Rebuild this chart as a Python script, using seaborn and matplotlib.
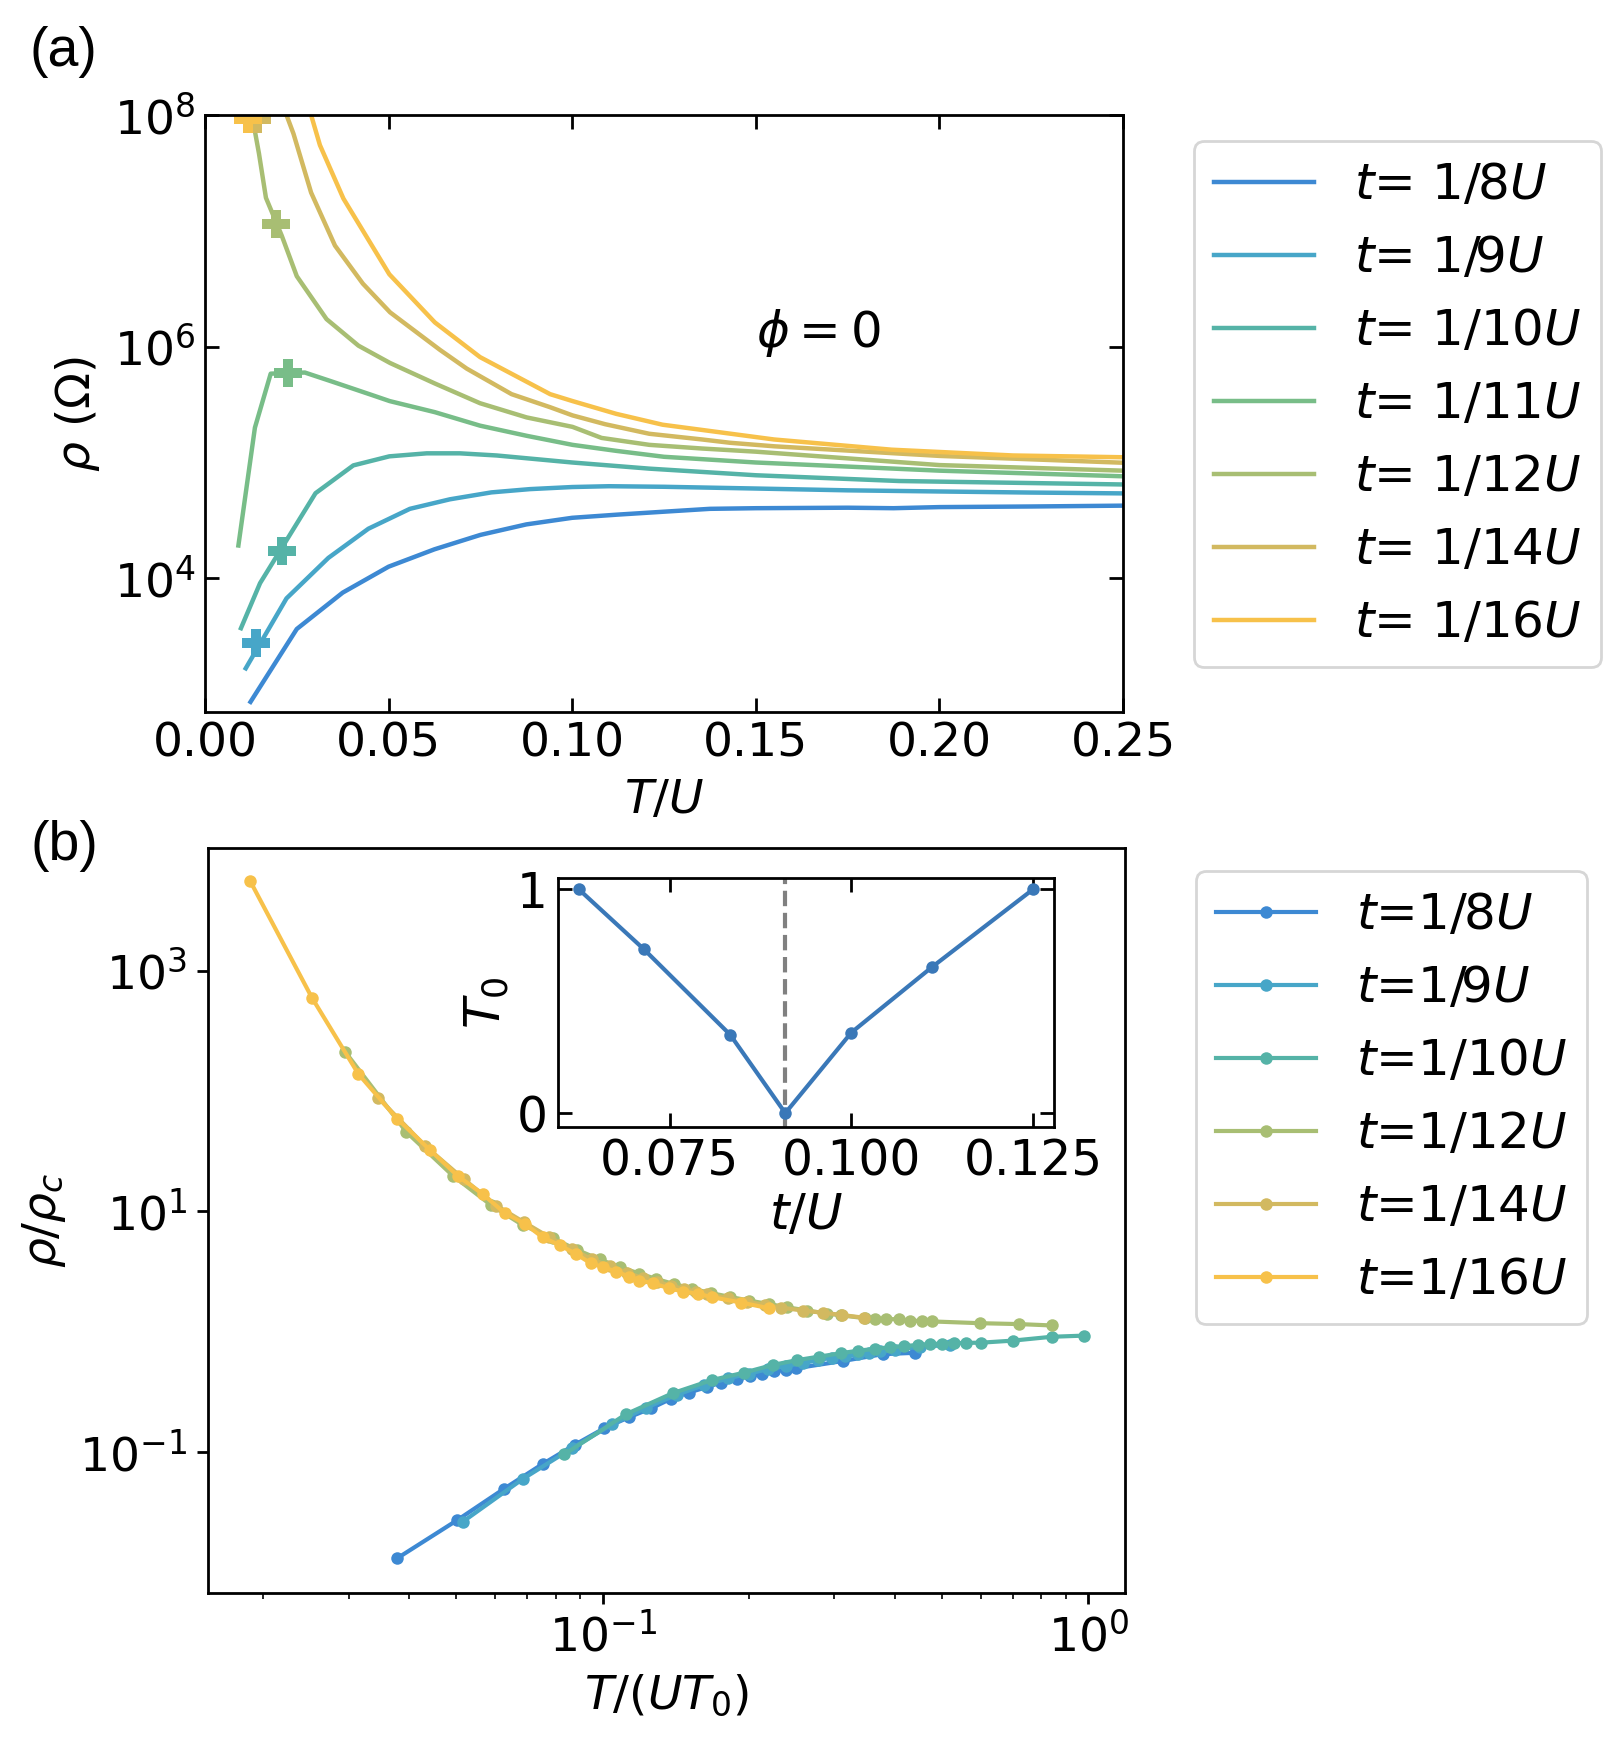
import numpy as np
import pandas as pd
import matplotlib
matplotlib.use("Agg")
import matplotlib.pyplot as plt
import seaborn as sns
from matplotlib.ticker import NullLocator, FixedLocator

# ---------------- data: panel (a) ----------------
series_a = ["1/8", "1/9", "1/10", "1/11", "1/12", "1/14", "1/16"]
colors = ["#3d89d3", "#47a6c8", "#55b3a7", "#78bd88", "#a8be73", "#d2b960", "#f7c14a"]

T_8 = [0.0124, 0.025, 0.0375, 0.05, 0.0625, 0.075, 0.0875, 0.1, 0.1125, 0.125, 0.1375, 0.15, 0.175, 0.1875, 0.2, 0.225, 0.25]
R_8 = [857, 3650, 7520, 12600, 17800, 23700, 29200, 33300, 35500, 37600, 39800, 40300, 40700, 40300, 41200, 41700, 42400]
T_9 = [0.0111, 0.0222, 0.0336, 0.0445, 0.0558, 0.0667, 0.078, 0.0885, 0.1, 0.11, 0.125, 0.15, 0.175, 0.2, 0.225, 0.25]
R_9 = [1670, 6710, 15000, 26800, 39800, 48100, 55200, 58900, 61400, 62400, 61700, 59600, 57500, 56200, 55000, 54100]
T_10 = [0.0098, 0.015, 0.0301, 0.0404, 0.0502, 0.0604, 0.0694, 0.0794, 0.1, 0.121, 0.15, 0.189, 0.25]
R_10 = [3710, 9080, 54300, 94400, 113000, 120000, 120000, 115000, 100000, 88500, 77600, 69200, 64600]
T_11 = [0.0091, 0.0136, 0.0179, 0.0272, 0.0345, 0.0454, 0.0503, 0.0626, 0.0749, 0.0876, 0.1001, 0.112, 0.125, 0.15, 0.2, 0.25]
R_11 = [19200, 2.0e5, 5.85e5, 5.98e5, 5.01e5, 3.83e5, 3.39e5, 2.72e5, 2.08e5, 1.70e5, 1.42e5, 1.26e5, 1.12e5, 1.0e5, 8.5e4, 7.6e4]
T_12 = [0.0118, 0.0132, 0.0147, 0.0166, 0.0209, 0.025, 0.0331, 0.0418, 0.0504, 0.0626, 0.0749, 0.0876, 0.1001, 0.108, 0.121, 0.1354, 0.15, 0.2, 0.25]
R_12 = [2e8, 8.5e7, 4.66e7, 1.93e7, 9.1e6, 4.06e6, 1.73e6, 1.02e6, 7.23e5, 4.81e5, 3.25e5, 2.45e5, 2.03e5, 1.63e5, 1.42e5, 1.32e5, 1.24e5, 9.5e4, 8.5e4]
T_14 = [0.0177, 0.0222, 0.0241, 0.0289, 0.0354, 0.043, 0.0504, 0.064, 0.0713, 0.0835, 0.094, 0.1001, 0.109, 0.121, 0.1354, 0.143, 0.155, 0.2, 0.25]
R_14 = [4e8, 1e8, 6.9e7, 2.14e7, 7.46e6, 3.5e6, 1.98e6, 9.38e5, 6.46e5, 3.89e5, 3.0e5, 2.55e5, 2.14e5, 1.77e5, 1.58e5, 1.48e5, 1.38e5, 1.14e5, 9.95e4]
T_16 = [0.0252, 0.0289, 0.0313, 0.0377, 0.0502, 0.0626, 0.0749, 0.094, 0.1001, 0.112, 0.1246, 0.155, 0.187, 0.22, 0.25]
R_16 = [3.2e8, 1e8, 5.5e7, 1.9e7, 4.22e6, 1.62e6, 8.13e5, 3.89e5, 3.39e5, 2.63e5, 2.12e5, 1.58e5, 1.29e5, 1.15e5, 1.11e5]

mark_series = ["1/9", "1/10", "1/11", "1/12", "1/14", "1/16"]
mark_T = [0.0139, 0.0211, 0.0227, 0.0193, 0.0141, 0.0118]
mark_R = [2750, 17100, 5.9e5, 1.15e7, 9.2e7, 9.2e7]

# ---------------- data: panel (b) ----------------
series_b = ["1/8", "1/9", "1/10", "1/12", "1/14", "1/16"]
x_8 = [0.0377, 0.0502, 0.0627, 0.0752, 0.0875, 0.1007, 0.1132, 0.1259, 0.138, 0.1503, 0.1637, 0.175, 0.189, 0.201, 0.213, 0.2254, 0.2388, 0.25, 0.3126, 0.377, 0.44]
y_8 = [0.0131, 0.0273, 0.0498, 0.0798, 0.115, 0.158, 0.195, 0.232, 0.277, 0.313, 0.347, 0.378, 0.404, 0.43, 0.447, 0.473, 0.482, 0.498, 0.573, 0.652, 0.67]
x_9 = [0.0515, 0.0684, 0.0865, 0.1045, 0.123, 0.142, 0.1615, 0.181, 0.2, 0.219, 0.238, 0.258, 0.277, 0.296, 0.315, 0.335, 0.354, 0.373, 0.40, 0.45, 0.52]
y_9 = [0.0264, 0.0598, 0.108, 0.17, 0.235, 0.30, 0.36, 0.41, 0.45, 0.49, 0.52, 0.55, 0.58, 0.61, 0.63, 0.65, 0.67, 0.69, 0.71, 0.75, 0.78]
x_10 = [0.0834, 0.1117, 0.1393, 0.168, 0.1954, 0.224, 0.2518, 0.2786, 0.309, 0.336, 0.363, 0.39, 0.418, 0.445, 0.472, 0.50, 0.53, 0.56, 0.601, 0.698, 0.84, 0.977]
y_10 = [0.096, 0.207, 0.309, 0.398, 0.458, 0.531, 0.583, 0.622, 0.664, 0.698, 0.721, 0.745, 0.762, 0.778, 0.79, 0.80, 0.805, 0.81, 0.813, 0.845, 0.91, 0.93]
x_12 = [0.0295, 0.0394, 0.0491, 0.0589, 0.0685, 0.0789, 0.0885, 0.0985, 0.1085, 0.119, 0.129, 0.14, 0.153, 0.167, 0.183, 0.20, 0.22, 0.24, 0.264, 0.29, 0.31, 0.346, 0.363, 0.383, 0.407, 0.43, 0.455, 0.477, 0.598, 0.72, 0.84]
y_12 = [212, 45.9, 19.9, 11.3, 7.69, 6.0, 4.8, 4.0, 3.45, 3.05, 2.75, 2.5, 2.28, 2.1, 1.95, 1.82, 1.70, 1.60, 1.50, 1.42, 1.37, 1.30, 1.29, 1.28, 1.27, 1.24, 1.23, 1.22, 1.18, 1.16, 1.13]
x_14 = [0.0345, 0.0431, 0.0518, 0.0604, 0.069, 0.0777, 0.0863, 0.0949, 0.1036, 0.1122, 0.1208, 0.1295, 0.1381, 0.1467, 0.1554, 0.164, 0.1812, 0.1985, 0.2158, 0.233, 0.2589, 0.2848, 0.3107, 0.3452]
y_14 = [88, 35, 18.5, 11.2, 8.1, 6.1, 4.9, 4.0, 3.5, 3.1, 2.8, 2.6, 2.42, 2.27, 2.16, 2.06, 1.90, 1.78, 1.67, 1.59, 1.50, 1.44, 1.38, 1.31]
x_16 = [0.0188, 0.0252, 0.0314, 0.0377, 0.044, 0.0504, 0.0566, 0.0628, 0.0692, 0.0752, 0.0815, 0.0881, 0.0944, 0.1003, 0.1067, 0.1133, 0.119, 0.1267, 0.137, 0.1466, 0.157, 0.168, 0.193, 0.22]
y_16 = [5570, 597, 139, 59.2, 32.7, 19.6, 14.0, 9.73, 7.88, 6.11, 5.25, 4.44, 3.72, 3.44, 3.16, 2.88, 2.67, 2.54, 2.30, 2.16, 2.07, 1.94, 1.75, 1.57]

# inset
t_over_U = [1/16, 1/14, 1/12, 1/11, 1/10, 1/9, 1/8]
T0_vals = [1.0, 0.733, 0.35, 0.0, 0.36, 0.653, 1.0]
t_critical = 1/11

# ---------------- build frames ----------------
dfa = pd.concat([
    pd.DataFrame({"T": T, "rho": R, "s": s})
    for s, T, R in zip(series_a, [T_8, T_9, T_10, T_11, T_12, T_14, T_16],
                       [R_8, R_9, R_10, R_11, R_12, R_14, R_16])
], ignore_index=True)
dfm = pd.DataFrame({"T": mark_T, "rho": mark_R, "s": mark_series})
dfb = pd.concat([
    pd.DataFrame({"x": X, "y": Y, "s": s})
    for s, X, Y in zip(series_b, [x_8, x_9, x_10, x_12, x_14, x_16],
                       [y_8, y_9, y_10, y_12, y_14, y_16])
], ignore_index=True)
dfi = pd.DataFrame({"t": t_over_U, "T0": T0_vals})

pal_a = dict(zip(series_a, colors))
pal_b = {s: pal_a[s] for s in series_b}

TICK = 17
LAB = 17
LEG = 18

fig = plt.figure(figsize=(8.07, 8.69), dpi=200)

# ---------------- panel (a) ----------------
ax_a = fig.add_axes([0.1270, 0.5903, 0.5688, 0.3435])
sns.lineplot(data=dfa, x="T", y="rho", hue="s", hue_order=series_a, palette=pal_a,
             estimator=None, sort=False, lw=1.6, legend=False, ax=ax_a)
lines_a = list(ax_a.get_lines())
for s, T, R in zip(dfm["s"], dfm["T"], dfm["rho"]):
    ax_a.plot([T], [R], marker="P", ms=10, color=pal_a[s], mew=0, ls="none")
ax_a.set_yscale("log")
ax_a.set_xlim(0, 0.25)
ax_a.set_ylim(700, 1e8)
ax_a.yaxis.set_major_locator(FixedLocator([1e4, 1e6, 1e8]))
ax_a.yaxis.set_minor_locator(NullLocator())
ax_a.set_xticks([0, 0.05, 0.10, 0.15, 0.20, 0.25])
ax_a.tick_params(direction="in", top=True, right=True, length=5, width=1, labelsize=TICK)
ax_a.set_xlabel(r"$T/U$", fontsize=LAB)
ax_a.set_ylabel(r"$\rho\ (\Omega)$", fontsize=LAB)
ax_a.text(0.15, 1.3e6, r"$\phi = 0$", fontsize=LEG, ha="left", va="center")
ax_a.legend(lines_a, [r"$t$= " + s + r"$U$" for s in series_a], loc="upper left",
            bbox_to_anchor=(1.077, 0.956), borderaxespad=0, fontsize=LEG)

# ---------------- panel (b) ----------------
ax_b = fig.add_axes([0.1289, 0.0834, 0.5682, 0.4287])
sns.lineplot(data=dfb, x="x", y="y", hue="s", hue_order=series_b, palette=pal_b,
             estimator=None, sort=False, lw=1.5, marker="o", markersize=4.5,
             markeredgewidth=0, legend=False, ax=ax_b)
lines_b = list(ax_b.get_lines())
ax_b.set_xscale("log")
ax_b.set_yscale("log")
ax_b.set_xlim(0.0154, 1.19)
ax_b.set_ylim(0.00676, 10470)
ax_b.yaxis.set_major_locator(FixedLocator([0.1, 10, 1000]))
ax_b.yaxis.set_minor_locator(NullLocator())
ax_b.tick_params(labelsize=TICK, length=4, width=1)
ax_b.set_xlabel(r"$T/(UT_0)$", fontsize=LAB)
ax_b.set_ylabel(r"$\rho/\rho_c$", fontsize=LAB)
ax_b.legend(lines_b, [r"$t$=" + s + r"$U$" for s in series_b], loc="upper left",
            bbox_to_anchor=(1.077, 0.969), borderaxespad=0, fontsize=LEG)

# ---------------- inset ----------------
ax_in = fig.add_axes([0.3455, 0.3513, 0.3077, 0.1435])
ax_in.axvline(t_critical, color="gray", ls="--", lw=1.5, zorder=1)
sns.lineplot(data=dfi, x="t", y="T0", color="#3a78b8", lw=1.5, marker="o",
             markersize=4.5, markeredgewidth=0, estimator=None, sort=False, ax=ax_in)
ax_in.set_xlim(0.0596, 0.1279)
ax_in.set_ylim(-0.064, 1.05)
ax_in.set_xticks([0.075, 0.100, 0.125])
ax_in.set_yticks([0, 1])
ax_in.tick_params(direction="in", top=True, right=True, length=5, width=1, labelsize=17.5)
ax_in.set_xlabel(r"$t/U$", fontsize=18, labelpad=2)
ax_in.set_ylabel(r"$T_0$", fontsize=18, labelpad=2)

for ax in (ax_a, ax_b, ax_in):
    for sp in ax.spines.values():
        sp.set_linewidth(1.0)

fig.text(0.039, 0.970, "(a)", fontsize=20, family="Liberation Sans", ha="center", va="center")
fig.text(0.040, 0.513, "(b)", fontsize=20, family="Liberation Sans", ha="center", va="center")

fig.savefig("out.png", dpi=200)
